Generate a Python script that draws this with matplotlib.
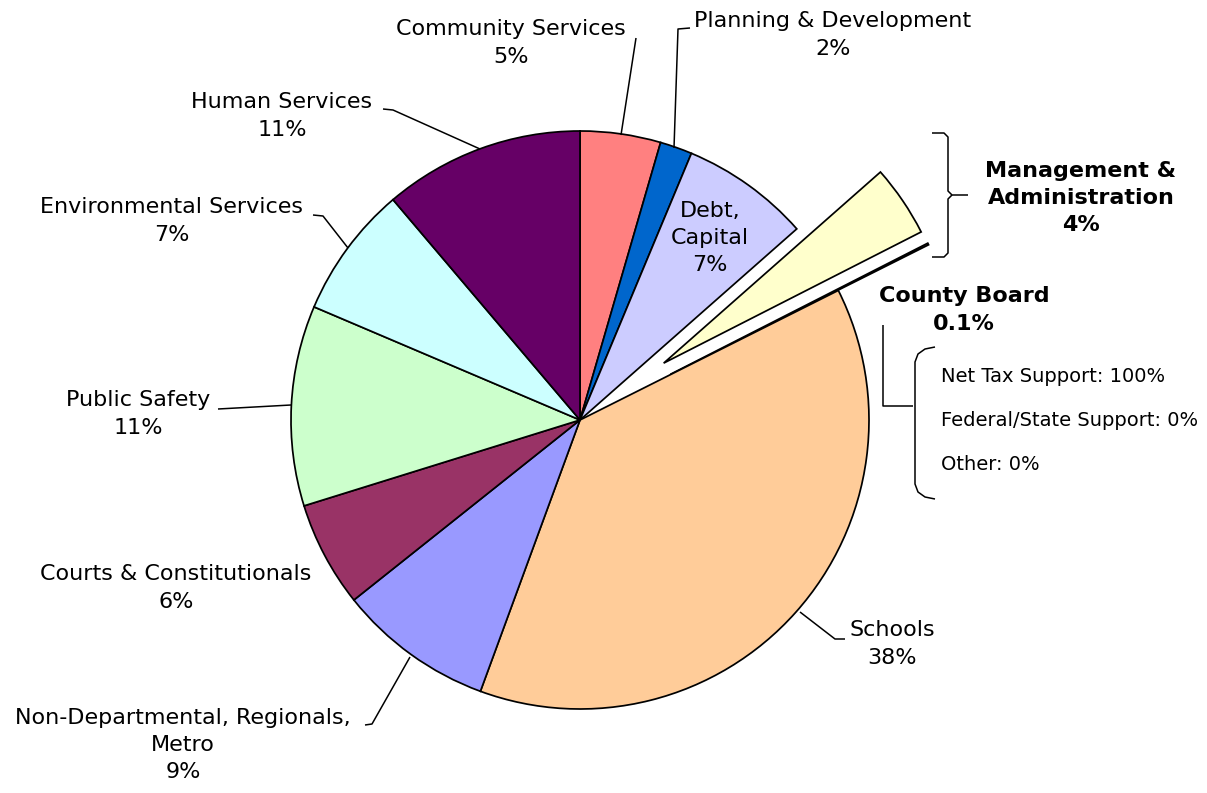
import numpy as np
import matplotlib.pyplot as plt

W, H = 1207, 793
CX, CY, R = 580, 420, 289  # pie centre and radius in pixels

categories = ["Community Services", "Planning & Development", "Debt, Capital",
              "Management & Administration", "County Board", "Schools",
              "Non-Departmental, Regionals, Metro", "Courts & Constitutionals",
              "Public Safety", "Environmental Services", "Human Services"]
shares = [4.5, 1.8, 7.2, 4.0, 0.1, 38.0, 8.7, 5.9, 11.2, 7.4, 11.2]
pct_labels = ["5%", "2%", "7%", "4%", "0.1%", "38%", "9%", "6%", "11%", "7%", "11%"]
colors = ["#FF8080", "#0066CC", "#CCCCFF", "#FFFFCC", "#FFCC99", "#FFCC99",
          "#9999FF", "#993366", "#CCFFCC", "#CCFFFF", "#660066"]
explode = [0, 0, 0, 0.35, 0.35, 0, 0, 0, 0, 0, 0]

support_names = ["Net Tax Support", "Federal/State Support", "Other"]
support_pct = [100, 0, 0]


def P(px, py):
    return (px - CX) / R, (CY - py) / R


def line(pts, lw=1.1):
    xy = np.array([P(*p) for p in pts])
    ax.plot(xy[:, 0], xy[:, 1], color="black", lw=lw, solid_capstyle="butt")


fig = plt.figure(figsize=(W / 100, H / 100), dpi=100)
ax = fig.add_axes([0, 0, 1, 1])
ax.axis("off")

ax.pie(shares, colors=colors, explode=explode, startangle=90, counterclock=False,
       radius=1, center=(0, 0), wedgeprops=dict(edgecolor="black", linewidth=1.25))
ax.set_xlim(P(0, 0)[0], P(W, 0)[0])
ax.set_ylim(P(0, H)[1], P(0, 0)[1])
ax.set_aspect("equal")

fs = 16
tk = dict(ha="center", va="center", fontsize=fs, linespacing=1.45, color="black")

# outside labels: (index, text, text position, leader line)
labels = [
    (0, "Community Services", (511, 43), [(636, 38), (621, 135)]),
    (1, "Planning & Development", (833, 35), [(690, 28), (678, 29), (674, 148)]),
    (10, "Human Services", (282, 116), [(383, 109), (393, 110), (480, 149)]),
    (9, "Environmental Services", (172, 221), [(313, 215), (323, 216), (348, 248)]),
    (8, "Public Safety", (138, 414), [(218, 409), (291, 405)]),
    (7, "Courts & Constitutionals", (176, 588), None),
    (6, "Non-Departmental, Regionals,\nMetro", (183, 745), [(365, 725), (372, 724), (410, 657)]),
    (5, "Schools", (892, 644), [(800, 612), (835, 639), (845, 639)]),
]
for i, name, pos, lead in labels:
    ax.text(*P(*pos), name + "\n" + pct_labels[i], **tk)
    if lead:
        line(lead)

ax.text(*P(710, 238), "Debt,\nCapital\n" + pct_labels[2], **tk)

# Management & Administration with bracket
ax.text(*P(1081, 198), "Management &\nAdministration\n" + pct_labels[3],
        fontweight="bold", **tk)
line([(932, 133), (944, 133), (948, 137), (948, 191), (952, 195), (968, 195)])
line([(952, 195), (948, 199), (948, 253), (944, 257), (932, 257)])

# County Board with breakdown
ax.text(*P(964, 310), "County Board\n" + pct_labels[4], fontweight="bold", **tk)
line([(883, 325), (883, 406), (913, 406)])
line([(935, 347), (925, 349), (918, 354), (915, 362), (915, 484), (918, 492),
      (925, 497), (935, 499)])
for k, (nm, v) in enumerate(zip(support_names, support_pct)):
    ax.text(*P(941, 377 + 44 * k), f"{nm}: {v}%", ha="left", va="center",
            fontsize=14, color="black")

fig.savefig("out.png", dpi=100)
